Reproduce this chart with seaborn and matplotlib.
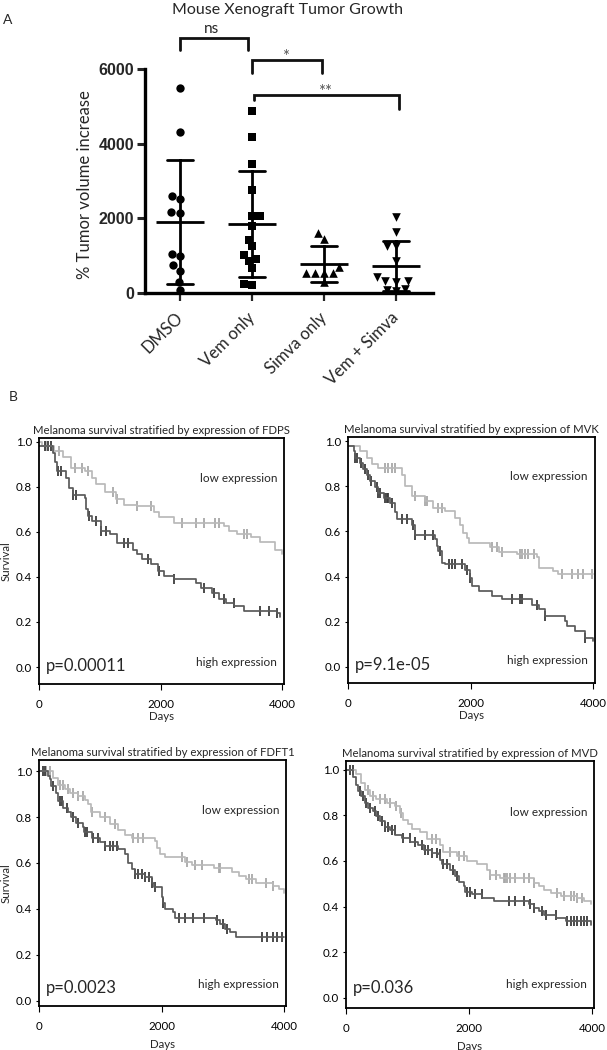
import numpy as np
import pandas as pd
import matplotlib
matplotlib.use("Agg")
import matplotlib.pyplot as plt
import seaborn as sns

# ---------------- Panel A: xenograft tumour growth ----------------
groups = ["DMSO", "Vem only", "Simva only", "Vem + Simva"]
dmso = [5480, 4320, 2510, 2590, 2170, 2140, 980, 1040, 740, 600, 290, 70]
vem_only = [4880, 4170, 3460, 2750, 2070, 2050, 1800, 1430, 1250, 1010, 910, 850, 670, 210, 250]
simva_only = [1440, 1600, 540, 540, 710, 540, 540, 290]
vem_simva = [2030, 1630, 1250, 1250, 870, 430, 290, 330, 110, 50, 90, 310]

sig_labels = ["ns", "*", "**"]
sig_pairs = [(0.0, 0.95), (1.0, 1.97), (1.03, 3.04)]

# ---------------- Panel B: Kaplan-Meier curves ----------------
fdps_low_days = [0, 50, 250, 400, 530, 750, 880, 940, 1080, 1270, 1400, 1620, 1890, 1975, 2220, 3040, 3120, 3260, 3480, 3640, 3890, 3990]
fdps_low_surv = [1.0, 0.98, 0.96, 0.93, 0.885, 0.87, 0.84, 0.81, 0.775, 0.745, 0.72, 0.715, 0.69, 0.665, 0.64, 0.625, 0.605, 0.59, 0.575, 0.555, 0.52, 0.50]
fdps_low_cens = [120, 330, 590, 700, 800, 1210, 1290, 1620, 1840, 2360, 2580, 2720, 2900, 2960, 3380, 3420]
fdps_high_days = [0, 230, 260, 290, 450, 500, 560, 750, 775, 800, 880, 1020, 1160, 1290, 1540, 1620, 1700, 1840, 1950, 2060, 2220, 2580, 2660, 2850, 2960, 3070, 3210, 3370, 3920, 3970]
fdps_high_surv = [0.98, 0.95, 0.91, 0.87, 0.84, 0.795, 0.765, 0.75, 0.70, 0.67, 0.65, 0.605, 0.59, 0.55, 0.52, 0.50, 0.48, 0.455, 0.425, 0.405, 0.39, 0.375, 0.35, 0.33, 0.30, 0.285, 0.27, 0.25, 0.24, 0.22]
fdps_high_cens = [100, 150, 200, 310, 370, 560, 610, 830, 940, 1020, 1100, 1400, 1460, 1790, 1980, 2220, 2720, 2880, 3040, 3200, 3640, 3780, 3920]

mvk_low_days = [0, 195, 305, 385, 495, 880, 930, 1040, 1260, 1390, 1580, 1750, 1830, 1880, 1940, 1970, 2320, 2460, 2750, 3080, 3110, 3350, 3430, 4000]
mvk_low_surv = [0.98, 0.955, 0.925, 0.90, 0.88, 0.85, 0.80, 0.755, 0.735, 0.705, 0.69, 0.66, 0.63, 0.595, 0.57, 0.55, 0.53, 0.51, 0.50, 0.485, 0.44, 0.425, 0.41, 0.41]
mvk_low_cens = [605, 660, 710, 770, 1090, 1260, 1290, 1470, 1530, 2350, 2430, 2510, 2810, 2840, 2890, 2940, 3030, 3490, 3650, 3760, 3840, 3980]
mvk_high_days = [0, 90, 115, 195, 250, 305, 360, 440, 495, 580, 685, 770, 795, 1040, 1090, 1420, 1450, 1475, 1530, 1580, 1910, 1990, 2020, 2130, 2350, 2510, 3000, 3110, 3220, 3540, 3570, 3710, 3870, 3990]
mvk_high_surv = [0.98, 0.955, 0.925, 0.905, 0.875, 0.85, 0.825, 0.795, 0.77, 0.75, 0.725, 0.685, 0.655, 0.63, 0.585, 0.565, 0.535, 0.515, 0.46, 0.455, 0.43, 0.395, 0.36, 0.335, 0.315, 0.30, 0.275, 0.255, 0.225, 0.205, 0.18, 0.16, 0.13, 0.115]
mvk_high_cens = [115, 140, 220, 275, 330, 380, 465, 495, 520, 605, 630, 660, 710, 875, 960, 1065, 1090, 1260, 1390, 1500, 1640, 1690, 1750, 1860, 1940, 1990, 2670, 2810, 2840, 3080, 3220, 3870]

fdft1_low_days = [0, 230, 310, 420, 500, 640, 750, 800, 850, 1000, 1160, 1290, 1400, 1510, 1890, 1920, 1980, 2060, 2390, 2500, 2850, 3150, 3260, 3370, 3540, 3810, 3920, 3990]
fdft1_low_surv = [1.0, 0.97, 0.94, 0.92, 0.905, 0.89, 0.875, 0.855, 0.82, 0.80, 0.77, 0.745, 0.72, 0.71, 0.695, 0.665, 0.64, 0.625, 0.605, 0.59, 0.58, 0.56, 0.545, 0.53, 0.515, 0.50, 0.485, 0.47]
fdft1_low_cens = [120, 175, 340, 395, 475, 555, 640, 720, 860, 1080, 1240, 1540, 1620, 1700, 2330, 2410, 2550, 2660, 2930, 2960, 3420, 3480, 3700, 3810]
fdft1_high_days = [0, 150, 175, 200, 285, 310, 395, 475, 530, 610, 720, 730, 860, 990, 1080, 1290, 1400, 1460, 1510, 1570, 1730, 1840, 1870, 2000, 2010, 2030, 2060, 2190, 2220, 2880, 2960, 3040, 3120, 3210, 4000]
fdft1_high_surv = [1.0, 0.98, 0.965, 0.935, 0.905, 0.87, 0.84, 0.82, 0.80, 0.775, 0.755, 0.735, 0.71, 0.69, 0.675, 0.66, 0.64, 0.60, 0.575, 0.55, 0.54, 0.515, 0.495, 0.48, 0.45, 0.425, 0.40, 0.385, 0.36, 0.35, 0.335, 0.315, 0.30, 0.28, 0.28]
fdft1_high_cens = [65, 95, 230, 340, 370, 450, 560, 640, 750, 775, 885, 970, 1080, 1160, 1210, 1270, 1570, 1620, 1680, 1730, 1790, 1840, 1890, 2030, 2280, 2390, 2520, 2690, 2900, 3010, 3070, 3640, 3720, 3810, 3890, 3970]

mvd_low_days = [0, 170, 250, 305, 385, 495, 660, 795, 880, 930, 1010, 1070, 1200, 1310, 1530, 1580, 1800, 1960, 2130, 2290, 2340, 2510, 3050, 3130, 3220, 3330, 3490, 3760, 3870, 3980]
mvd_low_surv = [1.0, 0.98, 0.94, 0.91, 0.885, 0.87, 0.855, 0.84, 0.81, 0.78, 0.76, 0.74, 0.725, 0.695, 0.67, 0.64, 0.62, 0.60, 0.585, 0.56, 0.54, 0.525, 0.505, 0.49, 0.475, 0.46, 0.445, 0.44, 0.425, 0.41]
mvd_low_cens = [360, 440, 550, 630, 710, 820, 900, 1390, 1470, 1690, 1830, 1910, 2340, 2430, 2560, 2590, 2620, 2670, 2750, 2890, 2970, 3050, 3430, 3540, 3650, 3700, 3760, 3840]
mvd_high_days = [0, 115, 170, 195, 250, 305, 360, 440, 495, 550, 630, 710, 795, 905, 1040, 1175, 1260, 1390, 1500, 1530, 1560, 1690, 1775, 1830, 1910, 1940, 2050, 2210, 2400, 2970, 3050, 3130, 3220, 3410, 3570, 3980]
mvd_high_surv = [1.0, 0.97, 0.935, 0.905, 0.885, 0.855, 0.83, 0.82, 0.795, 0.775, 0.75, 0.735, 0.715, 0.70, 0.685, 0.67, 0.65, 0.635, 0.63, 0.605, 0.585, 0.56, 0.535, 0.51, 0.49, 0.465, 0.455, 0.44, 0.425, 0.41, 0.395, 0.38, 0.365, 0.35, 0.335, 0.32]
mvd_high_cens = [60, 114, 223, 277, 332, 386, 468, 522, 577, 631, 685, 740, 794, 930, 1039, 1121, 1229, 1284, 1338, 1393, 1474, 1529, 1583, 1637, 1746, 1801, 1964, 2018, 2100, 2209, 2644, 2753, 2889, 2997, 3052, 3188, 3242, 3405, 3596, 3650, 3705, 3759, 3813, 3868, 3922]

genes = ["FDPS", "MVK", "FDFT1", "MVD"]
pvalues = ["p=0.00011", "p=9.1e-05", "p=0.0023", "p=0.036"]

LOW_COL = "#b9b9b9"
HIGH_COL = "#5a5a5a"
LOW_CENS = "#a8a8a8"
HIGH_CENS = "#3c3c3c"

sns.set_theme(style="white")
plt.rcParams["font.family"] = ["Lato", "DejaVu Sans"]

W, H = 607, 1050
fig = plt.figure(figsize=(W / 100, H / 100), dpi=100)


def px_axes(l, t, r, b):
    return fig.add_axes([l / W, 1 - b / H, (r - l) / W, (b - t) / H])


# ---------------- Panel A ----------------
values = [dmso, vem_only, simva_only, vem_simva]
df = pd.DataFrame({
    "group": np.repeat(groups, [len(v) for v in values]),
    "value": np.concatenate(values),
})

axA = px_axes(145, 69, 433, 300.5)
for g, m, ms in zip(groups, ["o", "s", "^", "v"], [6.0, 5.4, 6.2, 6.2]):
    sns.swarmplot(data=df[df["group"] == g], x="group", y="value", order=groups,
                  marker=m, size=ms, color="black", linewidth=0, ax=axA)
sns.pointplot(data=df, x="group", y="value", order=groups, errorbar="sd",
              capsize=0.36, color="black", linestyle="none", marker="_",
              markersize=34, markeredgewidth=2.0, err_kws={"linewidth": 2.0}, ax=axA)
for c in axA.collections:
    c.set_clip_on(False)

axA.set_xlim(-0.486, 3.51)
axA.set_ylim(-200, 6000)
axA.set_yticks([0, 2000, 4000, 6000])
axA.spines[["top", "right"]].set_visible(False)
axA.spines["bottom"].set_position(("data", 0))
axA.spines["left"].set_bounds(0, 6000)
for s in ["left", "bottom"]:
    axA.spines[s].set_linewidth(2.4)
    axA.spines[s].set_color("black")
axA.tick_params(axis="y", left=True, length=6, width=2.2, pad=2, labelsize=11.5)
axA.tick_params(axis="x", bottom=True, length=6, width=1.6, pad=10, labelsize=12)
for lab in axA.get_yticklabels():
    lab.set_fontfamily(["Liberation Sans Narrow", "Liberation Sans", "DejaVu Sans"])
    lab.set_fontweight("bold")
axA.set_xticks(range(len(groups)))
axA.set_xticklabels(groups, rotation=45, ha="right", va="center", rotation_mode="anchor")
axA.set_xlabel("")
axA.set_ylabel("% Tumor volume increase", fontsize=12, labelpad=4)

tops = [6830, 6240, 5300]
legs = [(6500, 6500), (5890, 5890), (5170, 4930)]
text_x = [0.44, 1.47, 2.01]
text_y = [7060, 6330, 5380]
for (x0, x1), top, (l0, l1), lab, tx, ty in zip(sig_pairs, tops, legs, sig_labels, text_x, text_y):
    axA.plot([x0, x0, x1, x1], [l0, top, top, l1], color="#111111", lw=2.0,
             clip_on=False, solid_joinstyle="miter")
    if lab == "ns":
        axA.text(tx, ty, lab, ha="center", va="center", fontsize=11)
    else:
        axA.text(tx, ty, lab, ha="center", va="center", fontsize=12, color="#555555")

fig.text(287 / W, 1 - 10 / H, "Mouse Xenograft Tumor Growth", ha="center", va="center", fontsize=11.5)
fig.text(3 / W, 1 - 20 / H, "A", ha="left", va="center", fontsize=10)
fig.text(9 / W, 1 - 397 / H, "B", ha="left", va="center", fontsize=10)

# ---------------- Panel B ----------------
curves = {
    "FDPS": ((fdps_low_days, fdps_low_surv, fdps_low_cens), (fdps_high_days, fdps_high_surv, fdps_high_cens)),
    "MVK": ((mvk_low_days, mvk_low_surv, mvk_low_cens), (mvk_high_days, mvk_high_surv, mvk_high_cens)),
    "FDFT1": ((fdft1_low_days, fdft1_low_surv, fdft1_low_cens), (fdft1_high_days, fdft1_high_surv, fdft1_high_cens)),
    "MVD": ((mvd_low_days, mvd_low_surv, mvd_low_cens), (mvd_high_days, mvd_high_surv, mvd_high_cens)),
}
# (left, top, right, bottom) in px, y-limits, offsets of the in-plot labels
boxes = [(39, 438, 284, 684), (348, 437, 595, 683), (39, 760, 286, 1006), (346, 761, 594, 1008)]
ylims = [(-0.075, 1.016), (-0.071, 1.018), (-0.022, 1.048), (-0.044, 1.038)]
low_off = [40, 40, 51, 52]
high_off = [22, 22, 21, 24]
p_off = [18, 18, 18, 20]
days_pad = [1, 1, 5, 5]

for i, gene in enumerate(genes):
    l, t, r, b = boxes[i]
    w, h = r - l, b - t
    ax = px_axes(l, t, r, b)
    for (days, surv, cens), col, ccol in zip(curves[gene], [LOW_COL, HIGH_COL], [LOW_CENS, HIGH_CENS]):
        sns.lineplot(x=days, y=surv, drawstyle="steps-post", estimator=None, sort=False,
                     color=col, linewidth=1.25, ax=ax)
        idx = np.searchsorted(days, cens, side="right") - 1
        sns.scatterplot(x=cens, y=np.asarray(surv)[idx], marker="|", s=45,
                        color=ccol, linewidth=1.3, ax=ax)
    ax.set_xlim(0, 4030)
    ax.set_ylim(*ylims[i])
    ax.set_xticks([0, 2000, 4000])
    ax.set_yticks([0.0, 0.2, 0.4, 0.6, 0.8, 1.0])
    ax.set_yticklabels(["0.0", "0.2", "0.4", "0.6", "0.8", "1.0"])
    for s in ax.spines.values():
        s.set_color("black")
        s.set_linewidth(1.3)
    ax.tick_params(axis="x", bottom=True, length=4, width=0.8, pad=6.5, labelsize=8.3, colors="black")
    ax.tick_params(axis="y", left=True, length=2, width=0.8, pad=3, labelsize=8.3, colors="black")
    ax.set_xlabel("Days", fontsize=8.3, labelpad=days_pad[i])
    ax.set_ylabel("Survival" if i % 2 == 0 else "", fontsize=8.3, labelpad=3)
    ax.set_title(f"Melanoma survival stratified by expression of {gene}", fontsize=8.2, pad=3)
    ax.text(1 - 7 / w, 1 - low_off[i] / h, "low expression", transform=ax.transAxes,
            ha="right", va="center", fontsize=8.5)
    ax.text(1 - 7 / w, high_off[i] / h, "high expression", transform=ax.transAxes,
            ha="right", va="center", fontsize=8.5)
    ax.text(7 / w, p_off[i] / h, pvalues[i], transform=ax.transAxes,
            ha="left", va="center", fontsize=12)

fig.savefig("out.png", dpi=100)
